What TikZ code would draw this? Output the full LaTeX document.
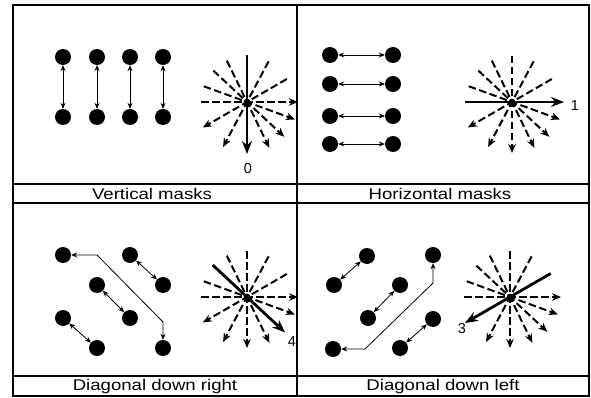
\documentclass[tikz,border=0pt]{standalone}
\usepackage{fontspec}
\setmainfont{Liberation Sans}
\newfontfamily\capfont[FakeStretch=1.2]{Liberation Sans}
\usetikzlibrary{arrows.meta,calc}

% compass star: #1 = centre coordinate, #2 = angle of the emphasised (solid) line
\newcommand\compassstar[2]{%
  \foreach \a in {180,30,62,90,116,137,160}{%
    \ifnum\a=#2\relax\else
      \draw[ray] ($(#1)+(\a:46pt)$) -- ($(#1)+(\a+180:51pt)$);
    \fi
  }%
  \draw[mainray] ($(#1)+(#2:47pt)$) -- ($(#1)+(#2+180:52pt)$);
  \fill (#1) circle (3.4pt);
}

\begin{document}
\begin{tikzpicture}[x=1pt,y=-1pt,
  frame/.style={line width=1.9pt},
  dot/.style={circle,fill=black,inner sep=0pt,minimum size=16pt},
  link/.style={line width=0.8pt,{Stealth[length=6pt,width=5pt]}-{Stealth[length=6pt,width=5pt]}},
  ray/.style={line width=2pt,dash pattern=on 7.5pt off 3.5pt,-{Stealth[length=9pt,width=7.5pt]}},
  mainray/.style={line width=2.8pt,-{Stealth[length=13pt,width=10pt]}},
  caption/.style={font=\capfont\fontsize{15.5}{17}\selectfont,inner sep=0pt},
  dirlabel/.style={font=\fontsize{14.5}{16}\selectfont,inner sep=0pt}
]
\useasboundingbox (0,0) rectangle (591,398);
\fill[white] (0,0) rectangle (591,398);

% ---------- vertical masks ----------
\foreach \i/\x in {1/63,2/97,3/130,4/163}{
  \node[dot] (vt\i) at (\x,57) {};
  \node[dot] (vb\i) at (\x,117) {};
  \draw[link] (vt\i) -- (vb\i);
}
\coordinate (cv) at (247,102);
\compassstar{cv}{90}
\node[dirlabel] (l0) at (248,169) {0};

% ---------- horizontal masks ----------
\foreach \i/\y in {1/55,2/84,3/116,4/144}{
  \node[dot] (hl\i) at (330,\y) {};
  \node[dot] (hr\i) at (393,\y) {};
  \draw[link] (hl\i) -- (hr\i);
}
\coordinate (ch) at (512,102);
\compassstar{ch}{180}
\node[dirlabel] (l1) at (575,106) {1};

% ---------- diagonal down right ----------
\node[dot] (r1) at (63,255) {};
\node[dot] (r2) at (130,255) {};
\node[dot] (r3) at (97,285) {};
\node[dot] (r4) at (163,285) {};
\node[dot] (r5) at (63,318) {};
\node[dot] (r6) at (130,318) {};
\node[dot] (r7) at (97,348) {};
\node[dot] (r8) at (163,348) {};
\draw[link] (r2) -- (r4);
\draw[link] (r3) -- (r6);
\draw[link] (r5) -- (r7);
\coordinate (rb1) at (97,255);
\coordinate (rb2) at (163,322);
\draw[link] (r1) -- (rb1) -- (rb2) -- (r8);
\coordinate (cr) at (247,297);
\compassstar{cr}{137}
\begin{scope}
  \clip (200,300) rectangle (296,370);
  \node[dirlabel] (l4) at (292,342) {4};
\end{scope}

% ---------- diagonal down left ----------
\node[dot] (d1) at (367,256) {};
\node[dot] (d2) at (433,255) {};
\node[dot] (d3) at (334,285) {};
\node[dot] (d4) at (400,285) {};
\node[dot] (d5) at (368,318) {};
\node[dot] (d6) at (433,319) {};
\node[dot] (d7) at (333,349) {};
\node[dot] (d8) at (400,348) {};
\draw[link] (d1) -- (d3);
\draw[link] (d4) -- (d5);
\draw[link] (d6) -- (d8);
\coordinate (lb1) at (365,349);
\coordinate (lb2) at (433,283);
\draw[link] (d7) -- (lb1) -- (lb2) -- (d2);
\coordinate (cl) at (510,297);
\compassstar{cl}{30}
\node[dirlabel] (l3) at (462,329) {3};

% ---------- captions ----------
\node[caption] (t1) at (152,193.5) {Vertical masks};
\node[caption] (t2) at (440,193.5) {Horizontal masks};
\node[caption] (t3) at (155,386.5) {Diagonal down right};
\node[caption] (t4) at (443,386.5) {Diagonal down left};

% ---------- frame ----------
\draw[frame] (13,5) rectangle (589,396);
\draw[frame] (297,5) -- (297,396);
\draw[frame] (13,184) -- (589,184);
\draw[frame] (13,203) -- (589,203);
\draw[frame] (13,376) -- (589,376);
\end{tikzpicture}
\end{document}
